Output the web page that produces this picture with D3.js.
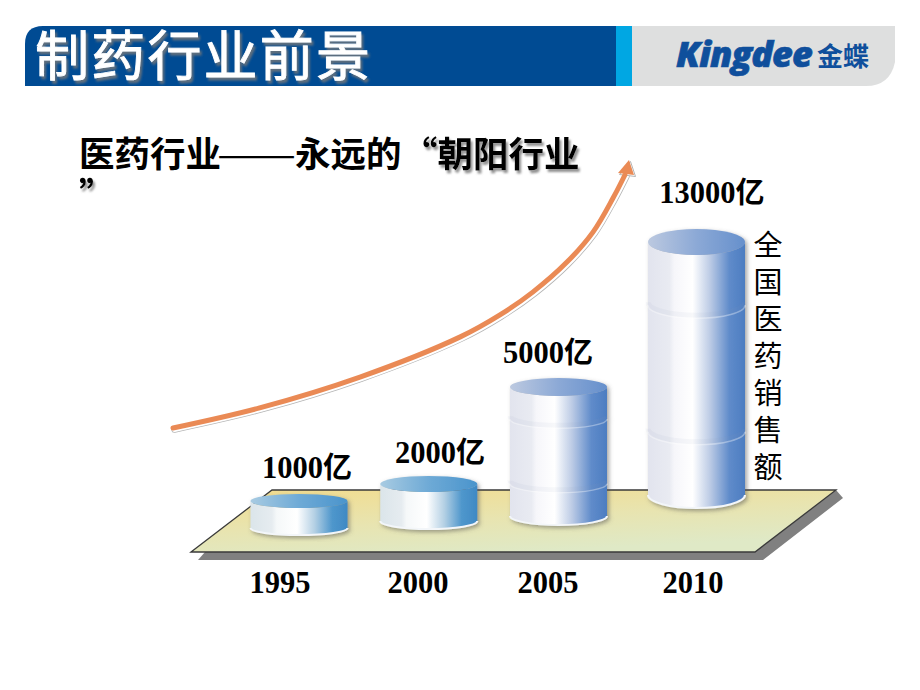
<!DOCTYPE html>
<html>
<head>
<meta charset="utf-8">
<script src="https://cdnjs.cloudflare.com/ajax/libs/d3/7.8.5/d3.min.js"></script>
<style>
  html, body { margin: 0; padding: 0; background: #fff; }
  svg { display: block; }
  .cjk { font-family: "Noto Sans CJK SC", sans-serif; }
  .num { font-family: "Liberation Serif", serif; font-weight: bold; font-size: 30.5px; fill: #000; }
</style>
</head>
<body>
<div id="chart"></div>
<script>
// Chart data.
var years = [1995, 2000, 2005, 2010];
var sales = [1000, 2000, 5000, 13000];
var unit = "亿";
var title = "制药行业前景";
var subtitleLead = "医药行业";
var subtitleDash = "——";
var subtitleTail = "永远的";
var subtitleQuoted = "“朝阳行业";
var subtitleWrap = "”";
var sideLabel = "全国医药销售额";
var brand = "Kingdee";
var brandCn = "金蝶";

// Growth arrow, in percent of the arrow's own box.
var trendX = [0, 19, 41, 63, 71.7, 78.9, 86.4, 92.1, 96.5, 99.1];
var trendY = [0, 7.5, 19, 34, 42.2, 50.7, 61.9, 73.1, 85.8, 94.4];

var width = 920, height = 690;

// Scales. The drawn cylinders are not in proportion to the values, hence piecewise.
var xScale = d3.scaleLinear().domain([1995, 2005, 2010]).range([299, 558.5, 696.5]);
var baseScale = d3.scaleOrdinal().domain(years).range([528, 521, 516, 495]);
var tickScale = d3.scaleOrdinal().domain(years).range([280, 418, 548, 693]);
var heightScale = d3.scaleLinear().domain(sales).range([27, 37, 129, 253]);
var ryScale = d3.scaleLinear().domain(sales).range([7, 8, 9, 13]);
var labelX = d3.scaleOrdinal().domain(sales).range([307, 440, 548, 712]);
var labelY = d3.scaleOrdinal().domain(sales).range([478, 463, 363, 203]);
var arrowX = d3.scaleLinear().domain([0, 100]).range([173, 629]);
var arrowY = d3.scaleLinear().domain([0, 100]).range([428, 160]);

var cylWidth = 97;

var svg = d3.select("#chart").append("svg")
  .attr("width", width)
  .attr("height", height);

var defs = svg.append("defs");

function gradient(id, stops, x2, y2) {
  var g = defs.append("linearGradient").attr("id", id)
    .attr("x1", 0).attr("y1", 0).attr("x2", x2).attr("y2", y2);
  stops.forEach(function(s) {
    g.append("stop").attr("offset", s[0]).attr("stop-color", s[1]);
  });
}

gradient("floorFill", [[0, "#f2dc8e"], [0.55, "#e8e4b0"], [1, "#dfe9c6"]], 0.5, 1);
gradient("bodyLow", [[0, "#dbe5ea"], [0.22, "#e6ecf0"], [0.27, "#f5f8f9"], [0.48, "#ffffff"],
  [0.66, "#b4d0e4"], [0.84, "#4f97cc"], [1, "#3f89c4"]], 1, 0);
gradient("topLow", [[0, "#a8cbe2"], [0.5, "#6eaad6"], [1, "#4a94cc"]], 1, 0);
gradient("bodyTall", [[0, "#e2e4ee"], [0.22, "#e9ebf2"], [0.27, "#f6f6fa"], [0.46, "#ffffff"],
  [0.64, "#bccbe5"], [0.84, "#5f8bca"], [1, "#4d7dc1"]], 1, 0);
gradient("topTall", [[0, "#bcc9e0"], [0.5, "#8ca9d6"], [1, "#6690cc"]], 1, 0);

var shadow = defs.append("filter").attr("id", "soft")
  .attr("x", "-10%").attr("y", "-10%").attr("width", "125%").attr("height", "125%");
shadow.append("feDropShadow").attr("dx", 2).attr("dy", 2)
  .attr("stdDeviation", 2).attr("flood-color", "#555").attr("flood-opacity", 0.55);

var textShadow = defs.append("filter").attr("id", "textShadow")
  .attr("x", "-5%").attr("y", "-10%").attr("width", "115%").attr("height", "130%");
textShadow.append("feDropShadow").attr("dx", 2).attr("dy", 3)
  .attr("stdDeviation", 1.2).attr("flood-color", "#777").attr("flood-opacity", 0.8);

// Header band.
svg.append("path")
  .attr("d", "M25,86V44Q25,26 43,26H616V86Z")
  .attr("fill", "#004b93");
svg.append("rect")
  .attr("x", 616).attr("y", 26).attr("width", 16).attr("height", 60)
  .attr("fill", "#00a7e3");
svg.append("path")
  .attr("d", "M632,26H895V62Q890,86 866,86H632Z")
  .attr("fill", "#dedfdf");

svg.append("text")
  .attr("class", "cjk")
  .attr("x", 35).attr("y", 76)
  .attr("font-size", 54)
  .attr("letter-spacing", 2.2)
  .attr("fill", "#fff")
  .attr("stroke", "#fff")
  .attr("stroke-width", 0.9)
  .attr("filter", "url(#textShadow)")
  .text(title);

svg.append("text")
  .attr("x", 676).attr("y", 67)
  .attr("font-family", "'Open Sans', sans-serif")
  .attr("font-weight", 800)
  .attr("font-style", "italic")
  .attr("font-size", 36)
  .attr("letter-spacing", -0.9)
  .attr("fill", "#0f4f9c")
  .attr("stroke", "#0f4f9c")
  .attr("stroke-width", 0.7)
  .text(brand);

svg.append("text")
  .attr("class", "cjk")
  .attr("x", 817).attr("y", 66)
  .attr("font-size", 26)
  .attr("font-weight", 700)
  .attr("fill", "#0f4f9c")
  .text(brandCn);

// Subtitle, with the wrapped closing quote on its own line.
var subtitle = svg.append("g")
  .attr("class", "cjk")
  .attr("font-size", 35.5)
  .attr("font-weight", 700)
  .attr("fill", "#000");
subtitle.append("text")
  .attr("x", 79).attr("y", 167)
  .text(subtitleLead);
subtitle.append("text")
  .attr("transform", "translate(217,167) scale(1.33,1)")
  .attr("font-weight", 400)
  .text(subtitleDash);
subtitle.append("text")
  .attr("x", 295).attr("y", 167)
  .text(subtitleTail);

var quoted = svg.append("g")
  .attr("class", "cjk")
  .attr("font-size", 35.5)
  .attr("font-weight", 700)
  .attr("fill", "#000")
  .attr("filter", "url(#textShadow)");
quoted.append("text")
  .attr("x", 402).attr("y", 167)
  .text(subtitleQuoted);
quoted.append("text")
  .attr("x", 79).attr("y", 208)
  .text(subtitleWrap);

// Floor with its grey slab.
var floor = {left: 191, topLeft: 272, right: 836, bottomRight: 755, top: 490, bottom: 552};
var polyLine = d3.line();
svg.append("path")
  .attr("d", polyLine([
    [floor.left + 7, floor.bottom + 8], [floor.bottomRight + 8, floor.bottom + 8],
    [floor.right + 7, floor.top + 8], [floor.right, floor.top],
    [floor.bottomRight, floor.bottom], [floor.left + 14, floor.bottom]
  ]) + "Z")
  .attr("fill", "#808080");
svg.append("path")
  .attr("d", polyLine([
    [floor.left, floor.bottom], [floor.topLeft, floor.top],
    [floor.right, floor.top], [floor.bottomRight, floor.bottom]
  ]) + "Z")
  .attr("fill", "url(#floorFill)")
  .attr("stroke", "#3a3a3a")
  .attr("stroke-width", 1.3);

// Growth arrow: a thin grey edge, a white gap, then the orange stroke.
var trend = trendX.map(function(d, i) { return [arrowX(d), arrowY(trendY[i])]; });
var arrowLine = d3.line().curve(d3.curveCatmullRom);
var tip = [arrowX(100), arrowY(100)];
var head = polyLine([[tip[0], tip[1]], [tip[0] - 11, tip[1] + 13], [tip[0] + 5, tip[1] + 15]]) + "Z";

var edge = svg.append("g").attr("transform", "translate(1.5,1.5)");
edge.append("path")
  .attr("d", arrowLine(trend))
  .attr("fill", "none")
  .attr("stroke", "#b5b5b5")
  .attr("stroke-width", 6.5)
  .attr("stroke-linecap", "round");
edge.append("path")
  .attr("d", arrowLine(trend))
  .attr("fill", "none")
  .attr("stroke", "#fff")
  .attr("stroke-width", 5)
  .attr("stroke-linecap", "round");
edge.append("path")
  .attr("d", head)
  .attr("fill", "#fff")
  .attr("stroke", "#b5b5b5")
  .attr("stroke-width", 1);

svg.append("path")
  .attr("d", arrowLine(trend))
  .attr("fill", "none")
  .attr("stroke", "#ea8a55")
  .attr("stroke-width", 5)
  .attr("stroke-linecap", "round");
svg.append("path")
  .attr("d", head)
  .attr("fill", "#ea8a55");

// Cylinders.
var rows = years.map(function(y, i) { return {year: y, value: sales[i]}; });
function isTall(d) { return d.value >= 5000; }

function lowerArc(year, value, y) {
  var rx = cylWidth / 2, ry = ryScale(value);
  return "M" + (xScale(year) - rx) + "," + y +
    "A" + rx + "," + ry + " 0 0 0 " + (xScale(year) + rx) + "," + y;
}

var cyl = svg.append("g").selectAll("g")
  .data(rows)
  .enter().append("g")
  .attr("filter", "url(#soft)");

cyl.append("path")
  .attr("d", function(d) {
    var rx = cylWidth / 2, ry = ryScale(d.value);
    var x0 = xScale(d.year) - rx, x1 = xScale(d.year) + rx;
    var yb = baseScale(d.year), yt = yb - heightScale(d.value);
    return "M" + x0 + "," + yt + "L" + x0 + "," + yb +
      "A" + rx + "," + ry + " 0 0 0 " + x1 + "," + yb +
      "L" + x1 + "," + yt +
      "A" + rx + "," + ry + " 0 0 1 " + x0 + "," + yt + "Z";
  })
  .attr("fill", function(d) { return isTall(d) ? "url(#bodyTall)" : "url(#bodyLow)"; });

// Light lip along the bottom edge.
cyl.append("path")
  .attr("d", function(d) { return lowerArc(d.year, d.value, baseScale(d.year)); })
  .attr("fill", "none")
  .attr("stroke", "#f3f6f9")
  .attr("stroke-width", 2);

// Rings on the tall cylinders: faint shade with a light line under it.
var ringFractions = [0.25, 0.75];
var rings = cyl.filter(isTall).selectAll(".ring")
  .data(function(d) {
    return ringFractions.map(function(f) {
      return {d: d, y: baseScale(d.year) - heightScale(d.value) * f};
    });
  })
  .enter().append("g")
  .attr("class", "ring");
rings.append("path")
  .attr("d", function(r) { return lowerArc(r.d.year, r.d.value, r.y - 3); })
  .attr("fill", "none")
  .attr("stroke", "#8f9ab4")
  .attr("stroke-opacity", 0.07)
  .attr("stroke-width", 5);
rings.append("path")
  .attr("d", function(r) { return lowerArc(r.d.year, r.d.value, r.y); })
  .attr("fill", "none")
  .attr("stroke", "#fff")
  .attr("stroke-opacity", 0.35)
  .attr("stroke-width", 1.5);

cyl.append("ellipse")
  .attr("cx", function(d) { return xScale(d.year); })
  .attr("cy", function(d) { return baseScale(d.year) - heightScale(d.value); })
  .attr("rx", cylWidth / 2)
  .attr("ry", function(d) { return ryScale(d.value); })
  .attr("fill", function(d) { return isTall(d) ? "url(#topTall)" : "url(#topLow)"; });

// Value labels.
var label = svg.append("g").selectAll("text")
  .data(rows)
  .enter().append("text")
  .attr("class", "num")
  .attr("text-anchor", "middle")
  .attr("x", function(d) { return labelX(d.value); })
  .attr("y", function(d) { return labelY(d.value); })
  .text(function(d) { return d.value; });
label.append("tspan")
  .attr("class", "cjk")
  .attr("font-size", 29)
  .text(unit);

// Year labels.
svg.append("g").selectAll("text")
  .data(years)
  .enter().append("text")
  .attr("class", "num")
  .attr("text-anchor", "middle")
  .attr("x", function(d) { return tickScale(d); })
  .attr("y", 593)
  .text(function(d) { return d; });

// Vertical side label.
svg.append("text")
  .attr("class", "cjk")
  .attr("x", 768).attr("y", 230)
  .attr("font-size", 29)
  .attr("letter-spacing", 8)
  .attr("fill", "#000")
  .style("writing-mode", "vertical-rl")
  .style("text-orientation", "upright")
  .text(sideLabel);
</script>
</body>
</html>
